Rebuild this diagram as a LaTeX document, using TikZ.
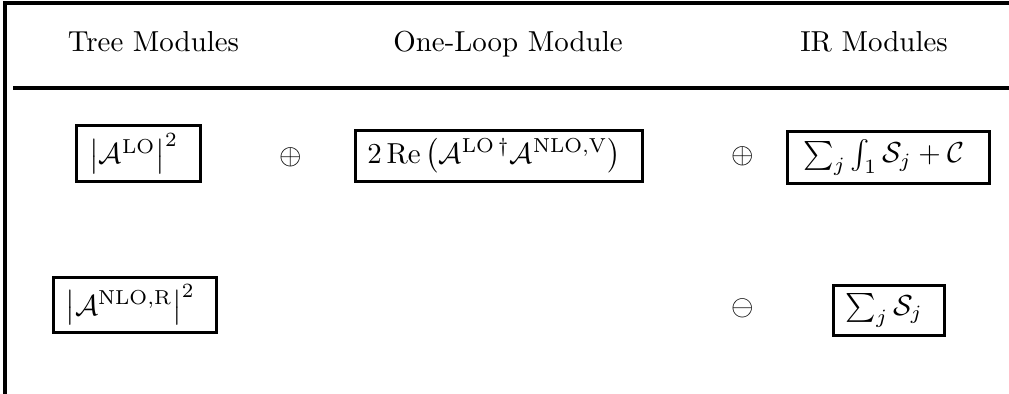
\documentclass[tikz,border=0pt]{standalone}
\usepackage{amsmath,amssymb}
\usepackage{tikz}
\usetikzlibrary{positioning, calc}

\begin{document}
\begin{tikzpicture}[
    x=0.346pt, y=-0.346pt,
    module_box/.style={
        rectangle,
        draw=black,
        line width=1.1pt,
        inner sep=0pt,
        align=center
    },
    header_label/.style={
        anchor=base,
        inner sep=0pt
    },
    op_symbol/.style={
        inner sep=0pt
    },
    frame_line/.style={
        line width=1.2pt,
        draw=black
    }
]
\useasboundingbox (0,0) rectangle (1009,394);

% Table frame and header rule
\coordinate (frame_tr) at (1009,3);
\coordinate (frame_tl) at (5,3);
\coordinate (frame_bl) at (5,394);
\draw[frame_line] (frame_tr) -- (frame_tl) -- (frame_bl);
\coordinate (rule_l) at (13,88);
\coordinate (rule_r) at (1009,88);
\draw[frame_line] (rule_l) -- (rule_r);

% Column headers
\node[header_label] (tree_head) at (153.5,52) {Tree Modules};
\node[header_label] (loop_head) at (508,52) {One-Loop Module};
\node[header_label] (ir_head) at (874,52) {IR Modules};

% Row 1: Born, virtual and integrated subtraction terms
\node[module_box, minimum width=43pt, minimum height=19.6pt] (tree_lo) at (138.5,153.5) {
    $\left|\mathcal{A}^{\mathrm{LO}}\right|^2$
};
\node[op_symbol] (plus_a) at (291,157) {$\oplus$};
\node[module_box, minimum width=99.4pt, minimum height=17.8pt] (loop_v) at (499,156) {
    $2\,\mathrm{Re}\left(\mathcal{A}^{\mathrm{LO}\,\dagger}\mathcal{A}^{\mathrm{NLO,V}}\right)$
};
\node[op_symbol] (plus_b) at (743,156) {$\oplus$};
\node[module_box, minimum width=70pt, minimum height=18.1pt] (ir_int) at (888.5,157.5) {
    $\sum_j \int_1 \mathcal{S}_j + \mathcal{C}$
};

% Row 2: real emission and local subtraction terms
\node[module_box, minimum width=56.5pt, minimum height=19.2pt] (tree_r) at (135,305) {
    $\left|\mathcal{A}^{\mathrm{NLO,R}}\right|^2$
};
\node[op_symbol] (minus_a) at (743,308) {$\ominus$};
\node[module_box, minimum width=38.5pt, minimum height=17.4pt] (ir_sub) at (889,310.5) {
    $\sum_j \mathcal{S}_j$
};

\end{tikzpicture}
\end{document}
